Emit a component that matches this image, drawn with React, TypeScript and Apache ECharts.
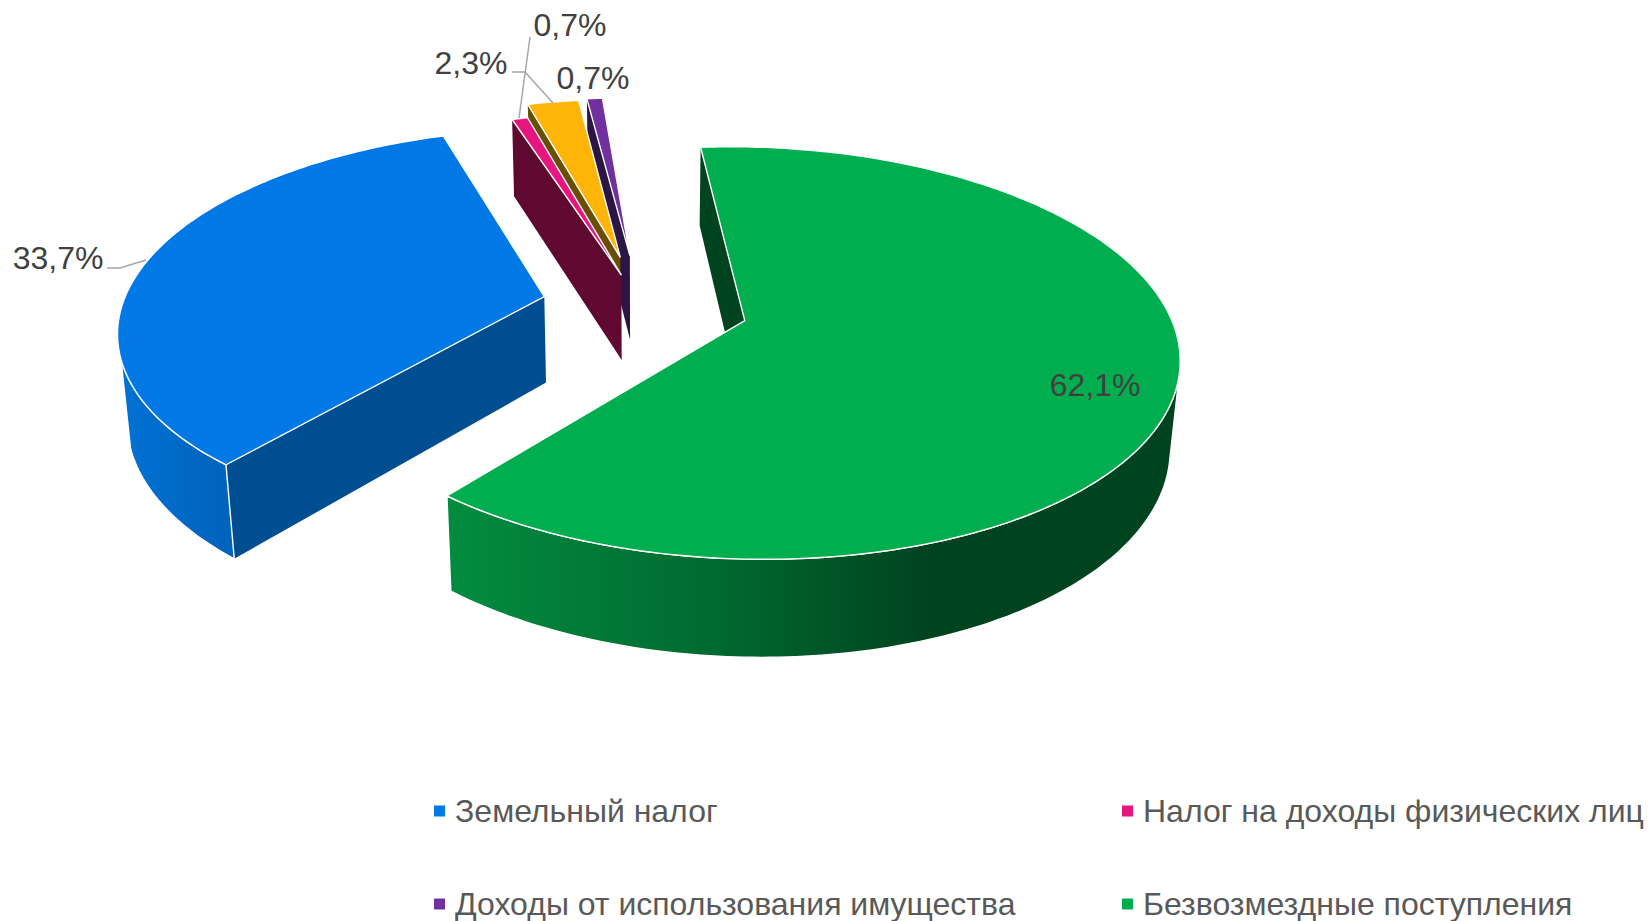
import React, { useEffect, useRef } from "react";
import * as echarts from "echarts";

const sliceNames = [
  "Земельный налог",
  "Налог на доходы физических лиц",
  "Прочие доходы",
  "Доходы от использования имущества",
  "Безвозмездные поступления",
];
const sliceValues = [33.7, 0.7, 2.3, 0.7, 62.1];
const legendNames = [
  "Земельный налог",
  "Налог на доходы физических лиц",
  "Доходы от использования имущества",
  "Безвозмездные поступления",
];

const topColors = ["#0079E6", "#E8157E", "#FFB508", "#7030A0", "#00AE4F"];
const wallColors = ["#004E92", "#5F0830", "#694E00", "#2A1545", "#00431F"];
const explode = [0.235, 0.165, 0.258, 0.265, 0.255];
const drawOrder = [4, 3, 2, 1, 0];

const FIRST_ANGLE = 220;
const X0 = 641, Y0 = 305.3, R = 422, B = 196.4, K = 0.155, M = 0.018, D = 88;
const FONT = "Liberation Sans";

const total = sliceValues.reduce((a, b) => a + b, 0);
const rad = (d: number) => (d * Math.PI) / 180;

function project(u: number, v: number, h: number): number[] {
  const w = 1 - K * v + M * h;
  return [X0 + (R * u) / w, Y0 + (B * v + D * h) / w];
}

function sliceGeom(index: number) {
  let a0 = FIRST_ANGLE;
  for (let i = 0; i < index; i++) a0 += (sliceValues[i] / total) * 360;
  const a1 = a0 + (sliceValues[index] / total) * 360;
  const mid = rad((a0 + a1) / 2);
  const ou = Math.sin(mid) * explode[index];
  const ov = -Math.cos(mid) * explode[index];
  const rim = (deg: number, h: number) =>
    project(ou + Math.sin(rad(deg)), ov - Math.cos(rad(deg)), h);
  const apex = (h: number) => project(ou, ov, h);
  return { a0, a1, rim, apex };
}

function arc(from: number, to: number, h: number, rim: (d: number, h: number) => number[]) {
  const pts: number[][] = [];
  const n = Math.max(2, Math.ceil(Math.abs(to - from)));
  for (let i = 0; i <= n; i++) pts.push(rim(from + ((to - from) * i) / n, h));
  return pts;
}

// The visible part of a slice's outer wall, in plan degrees.
function visibleRim(a0: number, a1: number): number[][] {
  const res: number[][] = [];
  for (const shift of [0, -360]) {
    const s = Math.max(a0 + shift, 105);
    const e = Math.min(a1 + shift, 252);
    if (e > s) res.push([s, e]);
  }
  return res;
}

const rimFills: Record<number, any> = {
  0: new echarts.graphic.LinearGradient(118, 0, 233, 0, [
    { offset: 0, color: "#0072D4" },
    { offset: 1, color: "#0062BB" },
  ], true),
  4: new echarts.graphic.LinearGradient(447, 0, 930, 0, [
    { offset: 0, color: "#028C40" },
    { offset: 0.55, color: "#006A30" },
    { offset: 1, color: "#00431F" },
  ], true),
};

const labelTexts = sliceValues.map((v) => v.toFixed(1).replace(".", ",") + "%");
const labelPlaces = [
  { x: 58, y: 258, line: [[107, 268], [120, 268], [146, 260]] },
  { x: 570, y: 25, line: [[530, 37], [519, 118]] },
  { x: 471, y: 63, line: [[512, 72], [525, 72], [553, 103]] },
  { x: 593, y: 78, line: null },
  { x: 1095, y: 385, line: null },
];

function makeRenderItem(index: number) {
  return () => {
    const { a0, a1, rim, apex } = sliceGeom(index);
    const children: any[] = [];
    const edge = { stroke: "#FFFFFF", lineWidth: 1.4 };
    children.push({
      type: "polygon",
      shape: { points: [apex(0), rim(a0, 0), rim(a0, 1), apex(1)] },
      style: { fill: wallColors[index] },
    });
    for (const [s, e] of visibleRim(a0, a1)) {
      children.push({
        type: "polygon",
        shape: { points: [...arc(s, e, 0, rim), ...arc(e, s, 1, rim)] },
        style: { fill: rimFills[index] || wallColors[index], ...edge },
      });
    }
    children.push({
      type: "polygon",
      shape: { points: [apex(0), ...arc(a0, a1, 0, rim)] },
      style: { fill: topColors[index], ...edge },
    });
    const place = labelPlaces[index];
    if (place.line) {
      children.push({
        type: "polyline",
        shape: { points: place.line },
        style: { fill: "none", stroke: "#A6A6A6", lineWidth: 1.5 },
      });
    }
    children.push({
      type: "text",
      x: place.x,
      y: place.y,
      style: {
        text: labelTexts[index],
        fill: "#404040",
        font: `32px "${FONT}"`,
        align: "center",
        verticalAlign: "middle",
      },
    });
    return { type: "group", children };
  };
}

const legendPlaces = [
  { left: 434, top: 795 },
  { left: 1122, top: 795 },
  { left: 434, top: 888 },
  { left: 1122, top: 888 },
];

export default function App() {
  const ref = useRef<HTMLDivElement>(null);
  useEffect(() => {
    document.body.style.margin = "0";
    const chart = echarts.init(ref.current!, null, { renderer: "svg" });
    chart.setOption({
      animation: false,
      backgroundColor: "#FFFFFF",
      legend: legendNames.map((name, i) => ({
        data: [name],
        left: legendPlaces[i].left,
        top: legendPlaces[i].top,
        padding: 0,
        icon: "rect",
        itemWidth: 11,
        itemHeight: 11,
        selectedMode: false,
        textStyle: {
          color: "#595959",
          fontFamily: FONT,
          fontSize: 32,
          padding: [0, 0, 0, 5],
        },
      })),
      series: drawOrder.map((i) => ({
        type: "custom",
        coordinateSystem: "none",
        name: sliceNames[i],
        silent: true,
        itemStyle: { color: topColors[i] },
        data: [[sliceValues[i]]],
        renderItem: makeRenderItem(i),
      })),
    });
    return () => chart.dispose();
  }, []);
  return <div ref={ref} style={{ width: 1648, height: 921 }} />;
}
